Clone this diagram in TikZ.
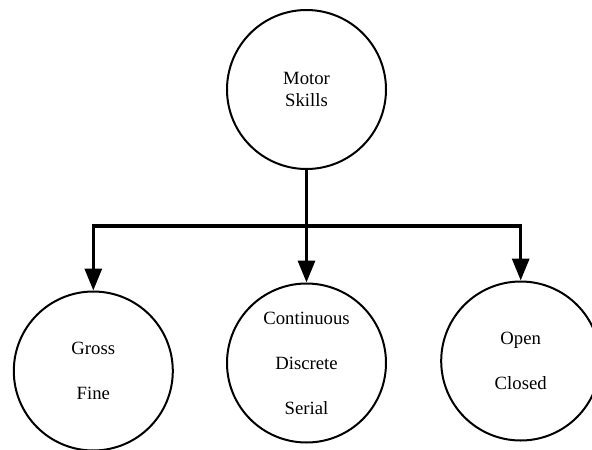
\documentclass[tikz,border=0pt]{standalone}
\usepackage{fontspec}
\setmainfont{Liberation Serif}
\usetikzlibrary{arrows.meta}
\begin{document}
\begin{tikzpicture}[x=1pt,y=-1pt,
  skill/.style={circle,draw,line width=2pt,minimum size=159pt,inner sep=0pt,
    align=center},
  tight/.style={font=\fontsize{18.7pt}{22.3pt}\selectfont},
  loose/.style={font=\fontsize{18.7pt}{45pt}\selectfont},
  link/.style={line width=3.3pt,-{Triangle[length=22pt,width=17pt]}}]
  \useasboundingbox (0,0) rectangle (592,450);
  % root and its three kinds of classification
  \node[skill,tight] (motor) at (306.5,89.5) {Motor\\Skills};
  \node[skill,loose] (gross) at (93.3,371) {Gross\\Fine};
  \node[skill,loose] (cont) at (306.5,363) {Continuous\\Discrete\\Serial};
  \node[skill,loose] (open) at (520.7,361) {Open\\Closed};
  % horizontal bus level
  \coordinate (bus) at (306.5,226);
  % connectors from the root down to each group
  \draw[link] (motor.south) -- (motor.south |- bus) -| (gross.north);
  \draw[link] (motor.south) -- (cont.north);
  \draw[link] (motor.south) -- (motor.south |- bus) -| (open.north);
\end{tikzpicture}
\end{document}
